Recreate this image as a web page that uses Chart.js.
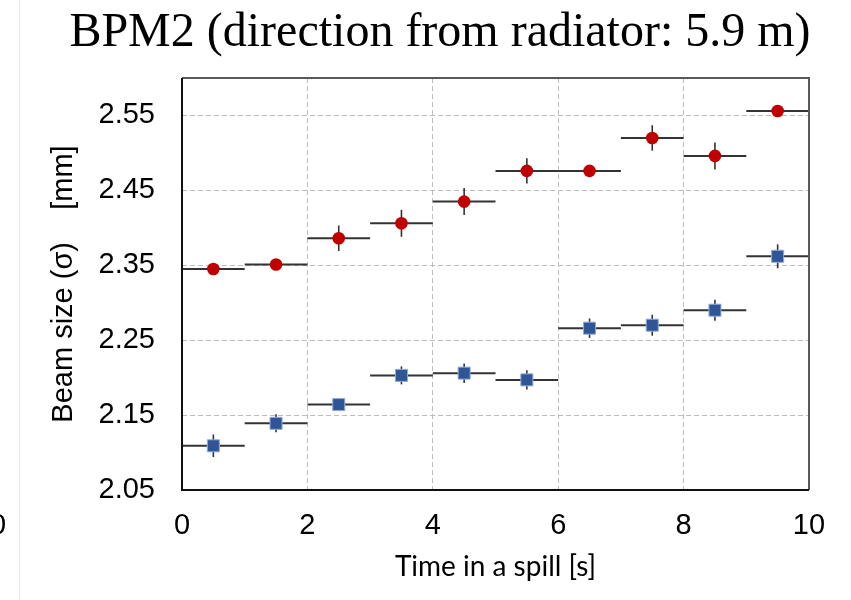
<!DOCTYPE html>
<html><head><meta charset="utf-8">
<script src="https://cdn.jsdelivr.net/npm/chart.js@4/dist/chart.umd.min.js"></script>
<style>html,body{margin:0;padding:0;background:#fff;} canvas{display:block;}</style>
</head><body>
<canvas id="c" width="851" height="600" style="width:851px;height:600px"></canvas>
<script>
const titleText = 'BPM2 (direction from radiator: 5.9 m)';
const xLabel = 'Time in a spill [s]';
const yLabel = 'Beam size (σ)    [mm]';
const times = [0.5, 1.5, 2.5, 3.5, 4.5, 5.5, 6.5, 7.5, 8.5, 9.5];
const xHalfWidth = [0.5, 0.5, 0.5, 0.5, 0.5, 0.5, 0.5, 0.5, 0.5, 0.5];
const redSize = [2.345, 2.351, 2.386, 2.406, 2.435, 2.476, 2.476, 2.520, 2.496, 2.556];
const redErr  = [0.005, 0.005, 0.017, 0.018, 0.018, 0.017, 0.005, 0.017, 0.018, 0.005];
const blueSize = [2.109, 2.139, 2.164, 2.203, 2.206, 2.197, 2.266, 2.270, 2.290, 2.362];
const blueErr  = [0.015, 0.012, 0.006, 0.012, 0.013, 0.013, 0.013, 0.014, 0.014, 0.016];
const xTicks = [0, 2, 4, 6, 8, 10];
const yTicks = [2.05, 2.15, 2.25, 2.35, 2.45, 2.55];

const SANS = "'Liberation Sans', Arial, sans-serif";

const errorBars = {
  id: 'errorBars',
  beforeDatasetsDraw(chart) {
    const {ctx, scales: {x, y}} = chart;
    ctx.save();
    chart.data.datasets.forEach(ds => {
      ds.data.forEach((p, i) => {
        const px = x.getPixelForValue(p.x);
        const py = y.getPixelForValue(p.y);
        const x0 = x.getPixelForValue(p.x - ds.xErr[i]);
        const x1 = x.getPixelForValue(p.x + ds.xErr[i]);
        const y0 = y.getPixelForValue(p.y - ds.yErr[i]);
        const y1 = y.getPixelForValue(p.y + ds.yErr[i]);
        ctx.strokeStyle = '#333333';
        ctx.lineWidth = 2;
        ctx.beginPath(); ctx.moveTo(x0, py); ctx.lineTo(x1, py); ctx.stroke();
        ctx.lineWidth = 1.6;
        ctx.beginPath(); ctx.moveTo(px, y0); ctx.lineTo(px, y1); ctx.stroke();
      });
    });
    ctx.restore();
  }
};

const frame = {
  id: 'frame',
  afterDatasetsDraw(chart) {
    const {ctx, chartArea: a} = chart;
    ctx.save();
    ctx.lineWidth = 2;
    ctx.strokeStyle = '#595959';
    ctx.beginPath(); ctx.moveTo(a.left, a.top); ctx.lineTo(a.right, a.top); ctx.lineTo(a.right, a.bottom); ctx.stroke();
    ctx.strokeStyle = '#111111';
    ctx.beginPath(); ctx.moveTo(a.left, a.top); ctx.lineTo(a.left, a.bottom); ctx.lineTo(a.right, a.bottom); ctx.stroke();
    ctx.restore();
  },
  afterDraw(chart) {
    const {ctx} = chart;
    ctx.save();
    ctx.fillStyle = '#000';
    ctx.font = "48px 'Liberation Serif', 'Times New Roman', serif";
    ctx.textAlign = 'center';
    ctx.textBaseline = 'alphabetic';
    ctx.fillText(titleText, 440, 46);
    // neighbouring panel remnants
    ctx.strokeStyle = '#e6e6e6';
    ctx.lineWidth = 1;
    ctx.beginPath(); ctx.moveTo(19.5, 0); ctx.lineTo(19.5, 600); ctx.stroke();
    ctx.font = '29px ' + SANS;
    ctx.textBaseline = 'middle';
    ctx.fillText('0', -2, 526);
    ctx.restore();
  }
};

const gridColor = (edges) => (c) => (c.tick && edges.includes(c.tick.value)) ? 'rgba(0,0,0,0)' : '#bdbdbd';

new Chart(document.getElementById('c'), {
  type: 'scatter',
  data: {
    datasets: [
      {
        label: 'red',
        data: times.map((t, i) => ({x: t, y: redSize[i]})),
        xErr: xHalfWidth, yErr: redErr,
        pointStyle: 'circle', pointRadius: 6.3, pointHoverRadius: 6.3,
        backgroundColor: '#c00000', borderColor: '#c00000', borderWidth: 0,
        showLine: false
      },
      {
        label: 'blue',
        data: times.map((t, i) => ({x: t, y: blueSize[i]})),
        xErr: xHalfWidth, yErr: blueErr,
        pointStyle: 'rect', pointRadius: 8.5, pointHoverRadius: 8.5,
        backgroundColor: '#2f5597', borderColor: '#8faadc', borderWidth: 1,
        showLine: false
      }
    ]
  },
  options: {
    responsive: false,
    animation: false,
    events: [],
    layout: {padding: {left: 0, right: 42, top: 78, bottom: 0}},
    plugins: {legend: {display: false}, tooltip: {enabled: false}, title: {display: false}},
    scales: {
      x: {
        type: 'linear', min: 0, max: 10,
        afterBuildTicks: s => { s.ticks = xTicks.map(v => ({value: v})); },
        afterFit: s => { s.height = 110; },
        grid: {color: gridColor([0, 10]), lineWidth: 1, drawTicks: false},
        border: {display: false, dash: [5, 3]},
        ticks: {color: '#000', font: {family: SANS, size: 29}, padding: 19, maxRotation: 0, autoSkip: false,
                callback: v => String(v)},
        title: {display: true, text: xLabel, color: '#000', font: {family: "Lato, 'Open Sans', sans-serif", size: 28},
                padding: {top: 0, bottom: 16}}
      },
      y: {
        type: 'linear', min: 2.05, max: 2.6,
        afterBuildTicks: s => { s.ticks = yTicks.map(v => ({value: v})); },
        afterFit: s => { s.width = 182; },
        grid: {color: gridColor([2.05]), lineWidth: 1, drawTicks: false},
        border: {display: false, dash: [5, 3]},
        ticks: {color: '#000', font: {family: SANS, size: 29}, padding: 27, autoSkip: false,
                callback: v => Number(v).toFixed(2)},
        title: {display: true, text: yLabel, color: '#000', font: {family: SANS, size: 29},
                padding: {top: 47, bottom: 0}}
      }
    }
  },
  plugins: [errorBars, frame]
});
</script>
</body></html>
